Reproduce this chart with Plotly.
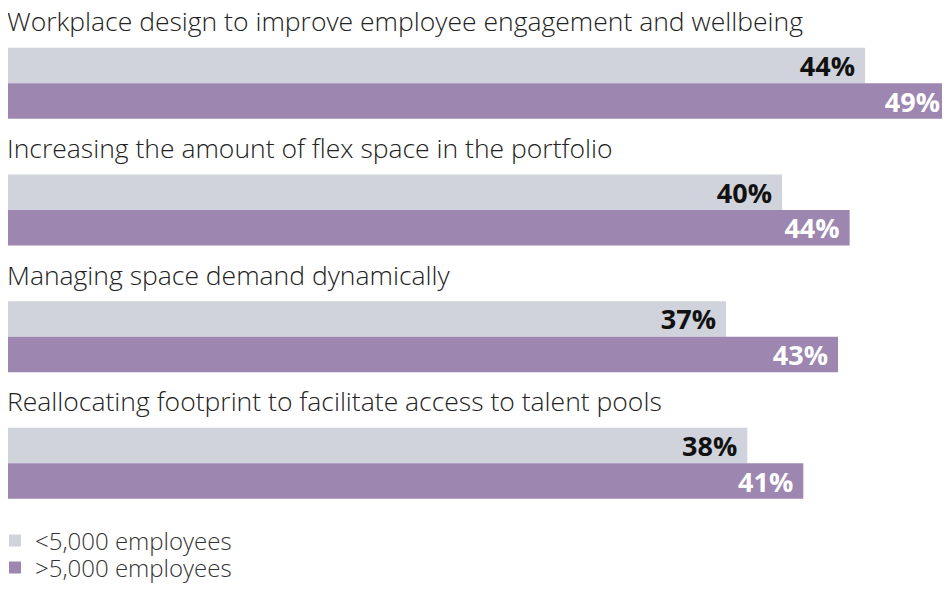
import plotly.graph_objects as go

# categories, top to bottom
categories = [
    "Workplace design to improve employee engagement and wellbeing",
    "Increasing the amount of flex space in the portfolio",
    "Managing space demand dynamically",
    "Reallocating footprint to facilitate access to talent pools",
]
# share of respondents (%)
small_firms = [44.4, 40.1, 37.2, 38.3]
large_firms = [48.8, 43.6, 43.0, 41.2]

grey = "#D0D3DB"
purple = "#9D86B0"
font_family = "Open Sans, Noto Sans, sans-serif"

fig = go.Figure()

fig.add_trace(go.Bar(
    y=categories, x=small_firms, orientation="h",
    name="<5,000 employees", legend="legend",
    marker=dict(color=grey, line=dict(width=0)),
    texttemplate="<b>%{x:.0f}%</b>\u00a0", textposition="inside",
    insidetextanchor="end", constraintext="none",
    textfont=dict(color="#111111", size=27, family=font_family),
))
fig.add_trace(go.Bar(
    y=categories, x=large_firms, orientation="h",
    name=">5,000 employees", legend="legend2",
    marker=dict(color=purple, line=dict(width=0)),
    texttemplate="<b>%{x:.0f}%</b>\u00a0", textposition="inside",
    insidetextanchor="end", constraintext="none",
    textfont=dict(color="#FFFFFF", size=27, family=font_family),
))

# category titles sit above each pair of bars
for cat in categories:
    fig.add_annotation(
        x=0, y=cat, xref="x", yref="y", text=cat,
        showarrow=False, xanchor="left", yanchor="middle",
        xshift=-3, yshift=62,
        font=dict(size=26.5, color="#222222", family=font_family, weight=300),
    )

legend_style = dict(
    orientation="v", xref="paper", yref="paper",
    x=-0.0138, xanchor="left", yanchor="middle",
    font=dict(size=24, color="#333333", family=font_family, weight=300),
    itemwidth=30, bgcolor="rgba(0,0,0,0)",
)

fig.update_layout(
    width=950, height=590,
    barmode="group", bargap=0.44, bargroupgap=0,
    plot_bgcolor="white", paper_bgcolor="white",
    margin=dict(l=0, r=8, t=12, b=8, autoexpand=False),
    font=dict(family=font_family, size=22, color="#333333"),
    xaxis=dict(range=[0, 48.8], visible=False, fixedrange=True),
    yaxis=dict(categoryorder="array", categoryarray=categories,
               range=[4.0, -0.5], visible=False, fixedrange=True),
    showlegend=True,
    legend=dict(legend_style, y=0.086),
    legend2=dict(legend_style, y=0.0386),
)

fig.write_html("out.html")
